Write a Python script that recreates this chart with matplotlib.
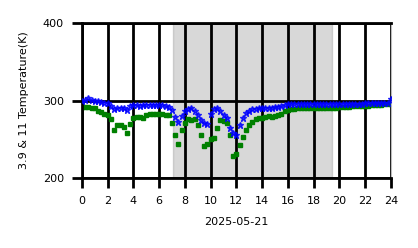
import numpy as np
import matplotlib
matplotlib.use("Agg")
import matplotlib.pyplot as plt

# hours of the day, one sample every 15 minutes
hours = np.arange(0, 24.01, 0.25)

# 3.9 um brightness temperature (K)
t39 = [300, 301, 303, 301, 300, 299, 298, 297,
       297, 293, 289, 291, 291, 290, 288, 293,
       294, 294, 293, 294, 294, 294, 294, 294,
       294, 294, 293, 292, 288, 279, 272, 280,
       287, 289, 290, 287, 281, 275, 271, 270,
       283, 289, 290, 287, 282, 277, 264, 258,
       255, 268, 278, 284, 287, 289, 289, 290,
       290, 290, 291, 291, 292, 292, 293, 294,
       295, 295, 296, 296, 296, 296, 296, 296,
       296, 296, 296, 296, 296, 296, 296, 296,
       296, 296, 296, 296, 296, 296, 296, 296,
       297, 297, 297, 297, 297, 297, 297, 297,
       302]

# 11 um brightness temperature (K)
t11 = [292, 292, 292, 291, 290, 287, 285, 283,
       281, 276, 262, 269, 268, 266, 258, 270,
       278, 279, 279, 278, 282, 283, 283, 283,
       283, 283, 282, 281, 271, 255, 244, 262,
       271, 276, 275, 276, 268, 255, 242, 244,
       250, 252, 265, 275, 274, 271, 255, 229,
       231, 243, 253, 262, 268, 272, 276, 277,
       277, 279, 280, 279, 280, 281, 283, 286,
       288, 289, 289, 290, 290, 290, 290, 290,
       290, 290, 290, 290, 290, 291, 291, 291,
       292, 292, 292, 292, 293, 293, 293, 293,
       293, 293, 294, 294, 294, 294, 295, 295,
       295]

night_start = 7.1
night_end = 19.4

fig = plt.figure(figsize=(4.18, 2.48), dpi=100)
ax = fig.add_axes([0.196, 0.282, 0.739, 0.625])

ax.axvspan(night_start, night_end, color='gray', alpha=0.3, zorder=0)
ax.plot(hours, t39, linestyle='none', marker='*', markersize=5, color='blue', alpha=0.8, zorder=3)
ax.plot(hours, t11, linestyle='none', marker='s', markersize=2.5, color='green', zorder=2)

ax.set_xlim(0, 24)
ax.set_ylim(200, 400)
ax.set_xticks(np.arange(0, 25, 2))
ax.set_yticks([200, 300, 400])
ax.set_axisbelow(True)
ax.grid(True, color='black', linewidth=2)
ax.tick_params(axis='both', length=7, width=2, pad=6, labelsize=8)
for name in ['left', 'top', 'bottom']:
    ax.spines[name].set_linewidth(2)
ax.spines['right'].set_color('#bbbbbb')

ax.set_xlabel('2025-05-21', fontsize=8, labelpad=8)
ax.set_ylabel('3.9 & 11 Temperature(K)', fontsize=8, labelpad=10)

plt.savefig("out.png", dpi=100)
